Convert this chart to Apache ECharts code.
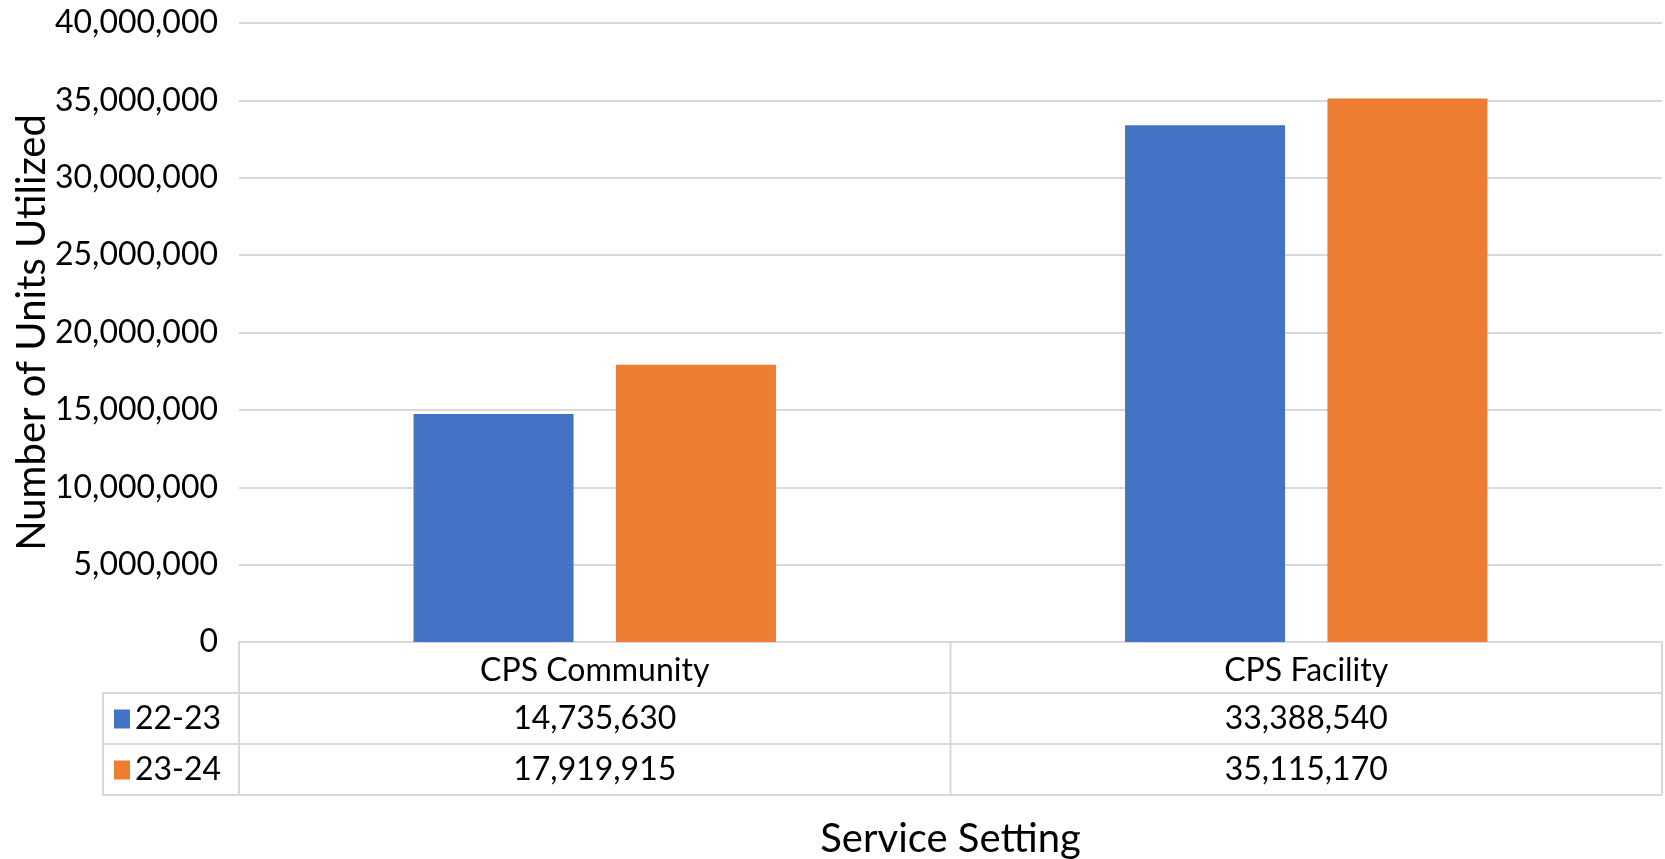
<!DOCTYPE html>
<html lang="en">
<head>
<meta charset="utf-8">
<title>Units Utilized by Service Setting</title>
<script src="https://cdn.jsdelivr.net/npm/echarts@6/dist/echarts.min.js"></script>
<style>
  html, body { margin: 0; padding: 0; background: #fff; }
  #chart { width: 1665px; height: 859px; }
</style>
</head>
<body>
<div id="chart"></div>
<script>
// data
var categories = ['CPS Community', 'CPS Facility'];
var seriesNames = ['22-23', '23-24'];
var units2223 = [14735630, 33388540];
var units2324 = [17919915, 35115170];
var seriesColors = ['#4472C4', '#ED7D31'];
var yMin = 0, yMax = 40000000, yStep = 5000000;

var FONT = 'Lato';
var W = 1665;
var gridLeft = 239, gridRight = 3, gridTop = 23, axisY = 642;
var rowH = 51;              // data table row height
var legendLeft = 103;       // left edge of the legend column
var lineColor = '#d9d9d9';

function fmt(v) { return Number(v).toLocaleString('en-US'); }

var chart = echarts.init(document.getElementById('chart'));

// data table under the axis (rows built from the series arrays)
var plotW = W - gridRight - gridLeft;
var colW = plotW / categories.length;
var tableBottom = axisY + rowH * (seriesNames.length + 1);
var graphics = [];

function hline(x1, x2, y) {
  graphics.push({ type: 'line', shape: { x1: x1, y1: y, x2: x2, y2: y },
    style: { stroke: lineColor, lineWidth: 2 }, silent: true });
}
function vline(x, y1, y2) {
  graphics.push({ type: 'line', shape: { x1: x, y1: y1, x2: x, y2: y2 },
    style: { stroke: lineColor, lineWidth: 2 }, silent: true });
}

// header row borders
vline(gridLeft, axisY, tableBottom);
for (var c = 1; c <= categories.length; c++) {
  vline(gridLeft + c * colW, axisY, tableBottom);
}
vline(legendLeft, axisY + rowH, tableBottom);

var rows = [units2223, units2324];
for (var r = 0; r < rows.length; r++) {
  var yTop = axisY + rowH * (r + 1);
  var yMid = yTop + rowH / 2;
  hline(legendLeft, W - gridRight, yTop);
  // legend key + series name
  graphics.push({ type: 'rect', shape: { x: legendLeft + 11, y: yMid - 9, width: 16, height: 19 },
    style: { fill: seriesColors[r] }, silent: true });
  graphics.push({ type: 'text', x: legendLeft + 32, y: yMid,
    style: { text: seriesNames[r], font: '32px ' + FONT, fill: '#000',
      textAlign: 'left', textVerticalAlign: 'middle' }, silent: true });
  for (var k = 0; k < categories.length; k++) {
    graphics.push({ type: 'text', x: gridLeft + colW * (k + 0.5), y: yMid,
      style: { text: fmt(rows[r][k]), font: '32px ' + FONT, fill: '#000',
        textAlign: 'center', textVerticalAlign: 'middle' }, silent: true });
  }
}
hline(legendLeft, W - gridRight, tableBottom);

// axis titles
graphics.push({ type: 'text', x: 32, y: (gridTop + axisY) / 2, rotation: Math.PI / 2,
  style: { text: 'Number of Units Utilized', font: '40px ' + FONT, fill: '#000',
    textAlign: 'center', textVerticalAlign: 'middle' }, silent: true });
graphics.push({ type: 'text', x: gridLeft + plotW / 2, y: 839,
  style: { text: 'Service Setting', font: '40px ' + FONT, fill: '#000',
    textAlign: 'center', textVerticalAlign: 'middle' }, silent: true });

var option = {
  backgroundColor: '#fff',
  animation: false,
  grid: { left: gridLeft, right: gridRight, top: gridTop, bottom: 859 - axisY },
  xAxis: {
    type: 'category',
    data: categories,
    axisLine: { show: true, lineStyle: { color: lineColor, width: 2 } },
    axisTick: { show: false },
    axisLabel: { color: '#000', fontFamily: FONT, fontSize: 32,
      verticalAlign: 'middle', margin: 29 }
  },
  yAxis: {
    type: 'value',
    min: yMin, max: yMax, interval: yStep,
    axisLine: { show: false },
    axisTick: { show: false },
    splitLine: { lineStyle: { color: lineColor, width: 2 } },
    axisLabel: { color: '#000', fontFamily: FONT, fontSize: 32, margin: 21,
      formatter: function (v) { return fmt(v); } }
  },
  series: [
    { name: seriesNames[0], type: 'bar', data: units2223, barWidth: 160, barGap: '26.5%',
      itemStyle: { color: seriesColors[0] } },
    { name: seriesNames[1], type: 'bar', data: units2324, barWidth: 160, barGap: '26.5%',
      itemStyle: { color: seriesColors[1] } }
  ],
  graphic: graphics
};
chart.setOption(option);
</script>
</body>
</html>
